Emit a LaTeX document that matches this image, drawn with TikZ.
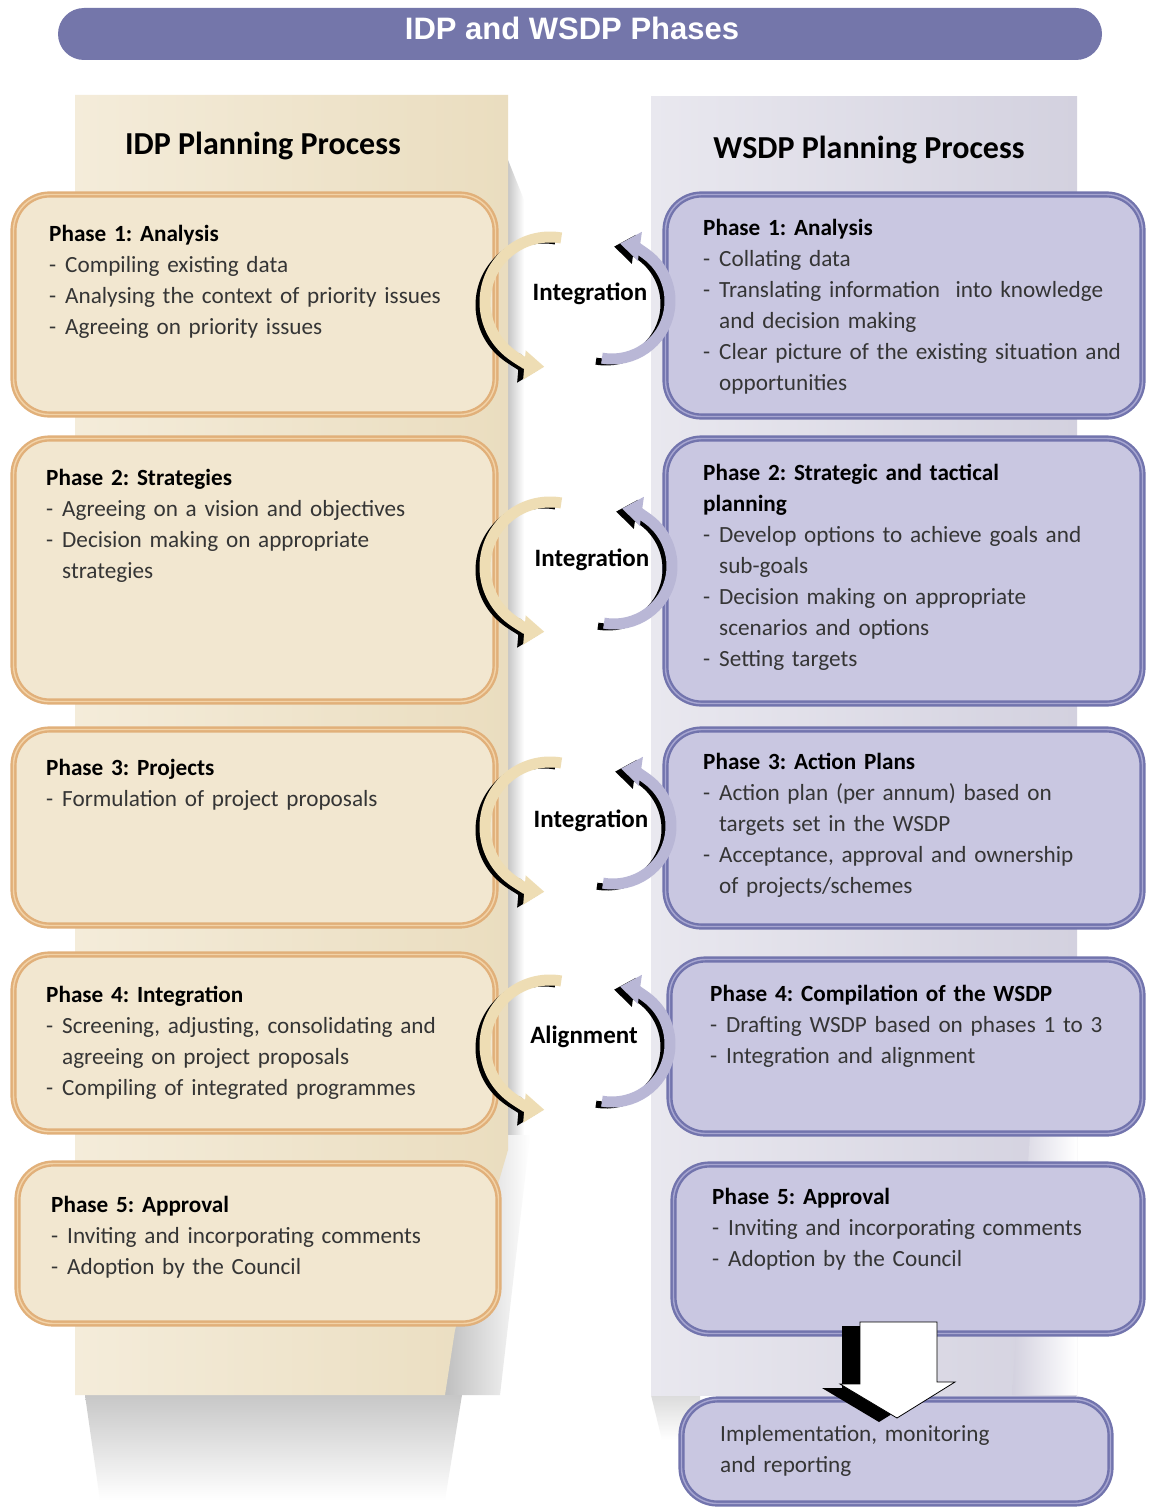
\documentclass[tikz,border=0pt]{standalone}
\usepackage{fontspec}
\setmainfont{Carlito}
\newfontfamily\titlefont{Liberation Sans}
\usetikzlibrary{arrows.meta}
\frenchspacing
\definecolor{titlebg}{HTML}{7476AA}
\definecolor{lpanelA}{HTML}{F4ECDA}
\definecolor{lpanelB}{HTML}{EADDBF}
\definecolor{rpanelA}{HTML}{E9E8EF}
\definecolor{rpanelB}{HTML}{D3D1DF}
\definecolor{lfill}{HTML}{F2E7D0}
\definecolor{lline}{HTML}{E1B07A}
\definecolor{llinein}{HTML}{F2D3A8}
\definecolor{rfill}{HTML}{C9C7E1}
\definecolor{rline}{HTML}{7274AD}
\definecolor{rlinein}{HTML}{A7A6D1}
\definecolor{arcbeige}{HTML}{EEDDB4}
\definecolor{arclav}{HTML}{B9B7D6}
\definecolor{bodytext}{HTML}{353535}
\newcommand\bodyfont{\fontsize{23.2pt}{31pt}\selectfont\frenchspacing}
\newcommand\itm{\par\hangindent=16pt\hangafter=1\noindent\makebox[16pt][l]{-}}
\newcommand\hd[1]{{\bfseries\color{black}#1}\par}
\tikzset{
  lbox/.style={draw=lline, double=llinein, double distance=1.4pt, line width=2.4pt, fill=lfill, rounded corners=36pt, inner sep=0pt},
  rbox/.style={draw=rline, double=rlinein, double distance=1.4pt, line width=2.4pt, fill=rfill, rounded corners=36pt, inner sep=0pt},
  txt/.style={anchor=base west, inner sep=0pt, text width=470pt, align=left, font=\bodyfont, text=bodytext},
  colhead/.style={inner sep=0pt, font=\bfseries\fontsize{32pt}{32pt}\selectfont, text=black},
  intlabel/.style={inner sep=0pt, font=\bfseries\fontsize{25pt}{25pt}\selectfont, text=black},
  arcsh/.style={line width=7pt, draw=black, -{Triangle[length=20pt,width=28pt]}},
  arcl/.style={line width=11pt, draw=arcbeige, -{Triangle[length=20pt,width=28pt]}},
  arcr/.style={line width=11pt, draw=arclav, -{Triangle[length=20pt,width=28pt]}},
}
\newcommand\larc[2]{%
  \begin{scope}[shift={(#1,#2)}]
    \draw[arcsh] (-6,3) ++(-80:65) arc[start angle=-80, end angle=-265, radius=65];
    \draw[arcl] (-80:65) arc[start angle=-80, end angle=-265, radius=65];
  \end{scope}}
\newcommand\rarc[2]{%
  \begin{scope}[shift={(#1,#2)}]
    \draw[arcsh] (-6,3) ++(100:58) arc[start angle=100, end angle=-82, radius=58];
    \draw[arcr] (100:58) arc[start angle=100, end angle=-82, radius=58];
  \end{scope}}
\begin{document}
\begin{tikzpicture}[x=1pt, y=-1pt]
\useasboundingbox (0,0) rectangle (1149,1509);
\fill[white] (0,0) rectangle (1149,1509);

% title bar
\node[fill=titlebg, rounded corners=26pt, minimum width=1044pt, minimum height=52pt, inner sep=0pt] (bar) at (580,34) {};
\node[inner sep=0pt, text=white, font=\titlefont\bfseries\fontsize{31pt}{31pt}\selectfont] (ttl) at (572,28) {IDP and WSDP Phases};

% shadows of the panels
\shade[left color=black!22, right color=white] (508,160) -- (524,200) -- (524,1150) -- (508,1150) -- cycle;
\shade[left color=black!25, right color=white] (445,1135) -- (530,1135) -- (500,1395) -- (445,1395) -- cycle;
\shade[top color=black!22, bottom color=white] (85,1395) -- (462,1395) -- (445,1500) -- (100,1500) -- cycle;
\shade[top color=black!14, bottom color=white] (651,1395) -- (700,1395) -- (700,1440) -- (662,1440) -- cycle;

% panels
\shade[left color=lpanelA, right color=lpanelB] (75,95) -- (508,95) -- (508,1150) -- (455,1330) -- (445,1395) -- (75,1395) -- cycle;
\shade[left color=rpanelA, right color=rpanelB] (651,97) -- (1077,97) -- (1077,1395) -- (651,1395) -- cycle;
\shade[left color=rpanelB, right color=white] (1030,1135) -- (1077,1135) -- (1077,1395) -- (1012,1395) -- cycle;

% column headers
\node[colhead] (hl) at (263,146) {IDP Planning Process};
\node[colhead] (hr) at (869,150) {WSDP Planning Process};

% left boxes
\node[lbox, minimum width=482pt, minimum height=220pt] (l1) at (254.5,304.5) {};
\node[lbox, minimum width=482pt, minimum height=263pt] (l2) at (254.5,570) {};
\node[lbox, minimum width=482pt, minimum height=196pt] (l3) at (254.5,827.5) {};
\node[lbox, minimum width=482pt, minimum height=177pt] (l4) at (254.5,1043) {};
\node[lbox, minimum width=481pt, minimum height=160pt] (l5) at (258,1243.5) {};

% right boxes
\node[rbox, minimum width=477pt, minimum height=222pt] (r1) at (904,305.5) {};
\node[rbox, minimum width=477pt, minimum height=265pt] (r2) at (904,571) {};
\node[rbox, minimum width=477pt, minimum height=197pt] (r3) at (904,828) {};
\node[rbox, minimum width=473pt, minimum height=174pt] (r4) at (906,1046.5) {};
\node[rbox, minimum width=469pt, minimum height=169pt] (r5) at (908,1249) {};
\node[rbox, minimum width=429pt, minimum height=104pt] (impl) at (896,1451.5) {};

% integration arrows
\larc{550}{302}\rarc{612}{301}
\larc{550}{567}\rarc{614}{566}
\larc{550}{827}\rarc{613}{826}
\larc{550}{1045}\rarc{612}{1044}
\node[intlabel] (i1) at (590,294) {Integration};
\node[intlabel] (i2) at (592,560) {Integration};
\node[intlabel] (i3) at (591,821) {Integration};
\node[intlabel] (i4) at (584,1037) {Alignment};

% left texts
\node[txt] (l1t) at (49,241) {\hd{Phase 1: Analysis}\itm Compiling existing data\itm Analysing the context of priority issues\itm Agreeing on priority issues\par};
\node[txt] (l2t) at (46,485) {\hd{Phase 2: Strategies}\itm Agreeing on a vision and objectives\itm Decision making on appropriate\newline strategies\par};
\node[txt] (l3t) at (46,775) {\hd{Phase 3: Projects}\itm Formulation of project proposals\par};
\node[txt] (l4t) at (46,1002) {\hd{Phase 4: Integration}\itm Screening, adjusting, consolidating and\newline agreeing on project proposals\itm Compiling of integrated programmes\par};
\node[txt] (l5t) at (51,1212) {\hd{Phase 5: Approval}\itm Inviting and incorporating comments\itm Adoption by the Council\par};

% right texts
\node[txt] (r1t) at (703,235) {\hd{Phase 1: Analysis}\itm Collating data\itm Translating information~ into knowledge\newline and decision making\itm Clear picture of the existing situation and\newline opportunities\par};
\node[txt] (r2t) at (703,480) {\hd{Phase 2: Strategic and tactical\newline planning}\itm Develop options to achieve goals and\newline sub-goals\itm Decision making on appropriate\newline scenarios and options\itm Setting targets\par};
\node[txt] (r3t) at (703,769) {\hd{Phase 3: Action Plans}\itm Action plan (per annum) based on\newline targets set in the WSDP\itm Acceptance, approval and ownership\newline of projects/schemes\par};
\node[txt] (r4t) at (710,1001) {\hd{Phase 4: Compilation of the WSDP}\itm Drafting WSDP based on phases 1 to 3\itm Integration and alignment\par};
\node[txt] (r5t) at (712,1204) {\hd{Phase 5: Approval}\itm Inviting and incorporating comments\itm Adoption by the Council\par};
\node[txt] (implt) at (720,1441) {Implementation, monitoring\newline and reporting\par};

% block arrow from r5 to impl
\coordinate (ba) at (897,1322);
\begin{scope}[shift={(ba)}]
  \fill[black] (-55,4) -- (22,4) -- (22,64) -- (40,64) -- (-18,100) -- (-75,66) -- (-55,66) -- cycle;
  \filldraw[fill=white, draw=black, line width=0.8pt] (-37,0) -- (40,0) -- (40,60) -- (58,60) -- (0,96) -- (-57,62) -- (-37,62) -- cycle;
\end{scope}
\end{tikzpicture}
\end{document}
